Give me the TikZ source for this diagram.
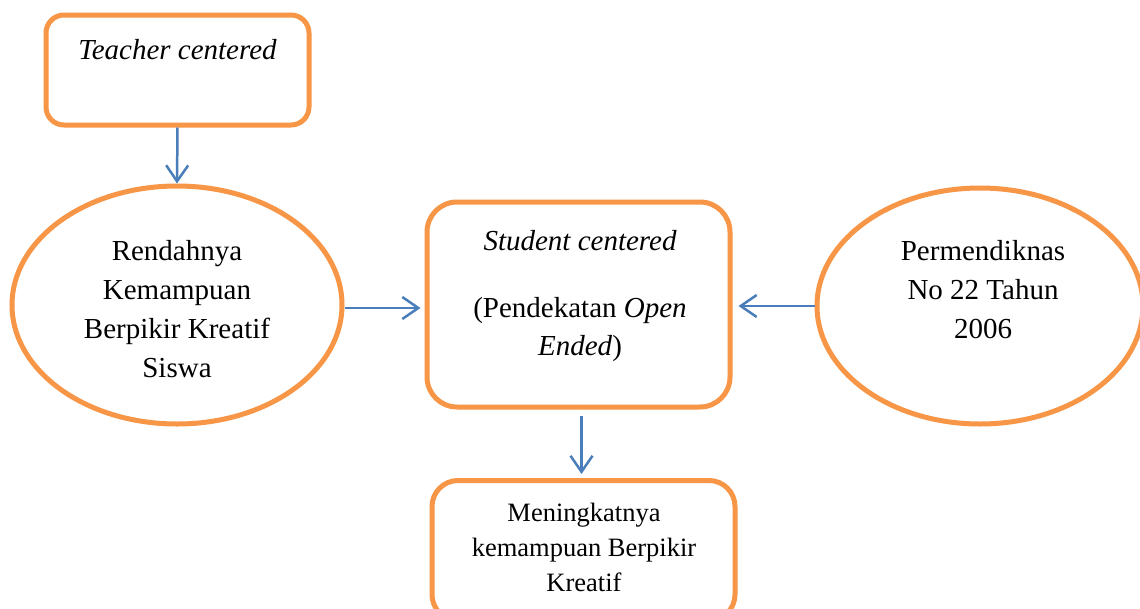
\documentclass[tikz,border=0pt]{standalone}
\usepackage{fontspec}
\setmainfont{Liberation Serif}
\usetikzlibrary{shapes.geometric,arrows.meta}
\definecolor{orng}{HTML}{F79646}
\definecolor{blu}{HTML}{4A7EBB}
\tikzset{
  boxA/.style={draw=orng,line width=5pt,fill=white,inner sep=0pt},
  ell/.style={boxA,ellipse},
  arr/.style={draw=blu,line width=2.5pt,-{Straight Barb[length=16pt,width=22pt]}},
  txt/.style={anchor=base,inner sep=0pt,font=\fontsize{29}{39}\selectfont},
  txts/.style={anchor=base,inner sep=0pt,font=\fontsize{26.5}{35}\selectfont}
}
\begin{document}
\begin{tikzpicture}[x=1pt,y=-1pt]
\useasboundingbox (0,0) rectangle (1140,608);
\clip (0,0) rectangle (1140,608);
\fill[white] (0,0) rectangle (1140,608);
% shapes
\node[boxA,rounded corners=18pt,minimum width=263pt,minimum height=110pt] (teach) at (177.5,70) {};
\node[ell,minimum width=330pt,minimum height=238pt] (left) at (177,305) {};
\node[boxA,rounded corners=30pt,minimum width=303pt,minimum height=205pt] (cen) at (578.5,304.5) {};
\node[ell,minimum width=326pt,minimum height=236pt] (right) at (980,306) {};
\node[boxA,rounded corners=26pt,minimum width=303pt,minimum height=140pt,anchor=north] (bot) at (583.5,478) {};
% texts
\node[txt] (t1) at (177.5,59) {\itshape Teacher centered};
\node[txt] (l1) at (177,260) {Rendahnya};
\node[txt] (l2) at (177,299) {Kemampuan};
\node[txt] (l3) at (177,338) {Berpikir Kreatif};
\node[txt] (l4) at (177,377) {Siswa};
\node[txt] (c1) at (580,250) {\itshape Student centered};
\node[txt] (c2) at (580,317) {(Pendekatan \textit{Open}};
\node[txt] (c3) at (580,355) {\textit{Ended})};
\node[txt] (r1) at (983,260) {Permendiknas};
\node[txt] (r2) at (983,299) {No 22 Tahun};
\node[txt] (r3) at (983,338) {2006};
\node[txts] (b1) at (584,521) {Meningkatnya};
\node[txts] (b2) at (584,556) {kemampuan Berpikir};
\node[txts] (b3) at (584,591) {Kreatif};
% connectors
\draw[arr] (teach.south) -- (left.north);
\draw[arr,shorten >=4pt] ([yshift=-3pt]left.east) -- ([yshift=-3pt]left.east -| cen.west);
\draw[arr,shorten >=6pt] (right.west) -- (right.west -| cen.east);
\draw[arr,shorten <=6pt,shorten >=4pt] ([xshift=3pt]cen.south) -- ([xshift=3pt]cen.south |- bot.north);
\end{tikzpicture}
\end{document}
